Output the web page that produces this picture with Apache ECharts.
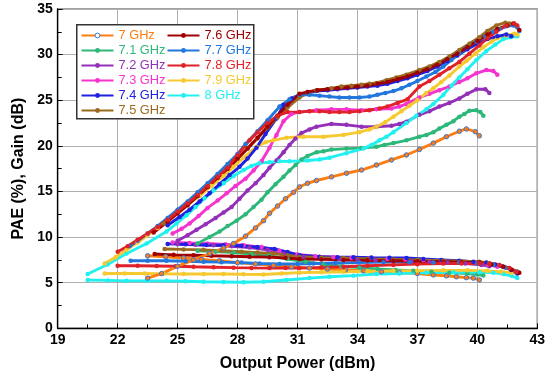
<!DOCTYPE html>
<html>
<head>
<meta charset="utf-8">
<script src="https://cdn.jsdelivr.net/npm/echarts@6/dist/echarts.min.js"></script>
<style>html,body{margin:0;padding:0;background:#fff}#c{width:558px;height:377px}</style>
</head>
<body>
<div id="c"></div>
<script>
const freqNames = ['7 GHz','7.1 GHz','7.2 GHz','7.3 GHz','7.4 GHz','7.5 GHz','7.6 GHz','7.7 GHz','7.8 GHz','7.9 GHz','8 GHz'];
const colors = ['#ff7d0f','#2db87a','#9430b8','#f533cf','#2020e0','#9a6b1f','#a00000','#2277dd','#e02228','#f7c930','#22f0f0'];
const xTicks = [19,22,25,28,31,34,37,40,43];
const yTicks = [0,5,10,15,20,25,30,35];

const pae_7 = [[23.5,5.5],[24.2,6.0],[25,6.8],[25.8,7.5],[26.6,8.2],[27.3,8.8],[27.8,9.3],[28.4,10.1],[28.9,11.0],[29.3,11.8],[29.6,12.6],[30,13.4],[30.4,14.2],[30.8,14.9],[31.1,15.5],[31.5,15.9],[31.95,16.2],[32.7,16.6],[33.45,17.0],[34.2,17.35],[34.95,17.9],[35.7,18.45],[36.45,19.0],[37.1,19.6],[37.8,20.3],[38.45,21.0],[39.1,21.6],[39.45,21.85],[39.9,21.55],[40.1,21.1]];
const pae_71 = [[26.0,9.3],[26.6,10.0],[27.1,10.6],[27.5,11.2],[27.95,11.8],[28.4,12.5],[28.8,13.3],[29.2,14.1],[29.5,14.9],[29.9,15.8],[30.3,16.6],[30.6,17.3],[30.9,17.9],[31.2,18.5],[31.5,18.9],[31.95,19.3],[32.3,19.4],[32.7,19.6],[33.45,19.7],[34.2,19.75],[34.95,19.9],[35.35,20.1],[35.8,20.3],[36.45,20.6],[37.1,21.0],[37.45,21.2],[37.8,21.5],[38.1,21.9],[38.45,22.3],[38.8,22.7],[39.1,23.2],[39.35,23.5],[39.6,23.85],[39.95,23.9],[40.15,23.7],[40.3,23.3]];
const pae_72 = [[25.0,9.6],[25.5,10.2],[25.95,10.8],[26.4,11.4],[26.9,12.1],[27.3,12.7],[27.7,13.3],[28.1,14.2],[28.5,15.1],[28.9,15.9],[29.3,16.8],[29.6,17.6],[29.95,18.4],[30.3,19.3],[30.6,20.1],[30.9,20.8],[31.2,21.4],[31.6,21.8],[31.95,22.1],[32.7,22.4],[33.45,22.3],[34.2,22.1],[34.95,22.1],[35.7,22.2],[36.1,22.4],[36.45,22.65],[37.1,23.4],[37.6,23.8],[38.1,24.3],[38.6,24.7],[39.1,25.2],[39.5,25.7],[39.95,26.2],[40.4,26.2],[40.6,25.8]];
const pae_73 = [[24.75,10.4],[25.2,10.9],[25.6,11.5],[26.05,12.3],[26.5,13.2],[27.0,14.0],[27.45,14.8],[27.9,15.6],[28.4,16.4],[28.8,17.3],[29.2,18.3],[29.6,19.8],[29.95,21.2],[30.3,22.7],[30.7,23.5],[31.1,23.7],[31.95,23.9],[32.7,24.0],[33.45,24.0],[34.2,23.9],[34.95,24.0],[35.7,24.1],[36.1,24.3],[36.45,24.6],[37.1,25.3],[37.6,25.7],[38.1,26.1],[38.6,26.5],[39.1,27.0],[39.5,27.4],[39.95,27.95],[40.45,28.3],[40.8,28.2],[41.0,27.8]];
const pae_74 = [[24.5,11.3],[25.1,12.2],[25.6,13.0],[26.1,13.9],[26.6,14.8],[27.1,15.8],[27.6,16.8],[28.1,17.7],[28.5,18.6],[28.95,19.8],[29.4,21.3],[29.95,23.0],[30.3,24.5],[30.7,25.2],[31.1,25.6],[31.5,25.8],[31.95,26.0],[32.5,26.1],[33,26.2],[33.5,26.3],[34,26.4],[34.5,26.5],[35,26.6],[35.5,26.8],[36,27.1],[36.5,27.4],[37,27.8],[37.5,28.2],[38,28.7],[38.5,29.3],[39,29.9],[39.5,30.6],[40,31.2],[40.5,31.7],[41,32.0],[41.45,32.2],[41.7,32.0]];
const pae_75 = [[24.3,11.5],[25,12.7],[25.5,13.6],[26,14.5],[26.5,15.5],[27,16.5],[27.5,17.5],[28,18.6],[28.5,19.7],[29,20.8],[29.5,22.0],[30,23.1],[30.5,24.2],[31.1,25.3],[31.5,25.8],[31.95,26.1],[32.7,26.3],[33.2,26.5],[33.7,26.6],[34.2,26.7],[34.6,26.8],[34.95,26.9],[35.45,27.2],[35.95,27.5],[36.45,27.8],[37.1,28.3],[37.6,28.7],[38.1,29.2],[38.6,29.8],[39.1,30.5],[39.6,31.2],[40.1,31.9],[40.5,32.6],[40.95,33.2],[41.4,33.5],[41.6,33.4]];
const pae_76 = [[23.8,10.5],[24.5,11.7],[25,12.6],[25.5,13.5],[26,14.5],[26.5,15.5],[27,16.5],[27.5,17.5],[28,18.6],[28.5,19.7],[29,20.9],[29.5,22.1],[30,23.3],[30.5,24.5],[31.1,25.7],[31.5,25.9],[32,26.1],[32.5,26.2],[33,26.3],[33.5,26.4],[34,26.5],[34.5,26.6],[35,26.8],[35.5,27.0],[36,27.3],[36.5,27.6],[37,28.0],[37.5,28.4],[38,28.9],[38.5,29.5],[39,30.1],[39.5,30.8],[40,31.5],[40.5,32.2],[41,32.8],[41.5,33.2],[41.8,33.4],[42.1,32.7]];
const pae_77 = [[22.6,9.0],[23,9.6],[23.5,10.4],[24,11.2],[24.5,12.1],[25,13.0],[25.5,13.9],[26,14.9],[26.5,15.9],[27,16.9],[27.5,18.0],[28,19.1],[28.4,20.2],[29,21.6],[29.5,22.8],[30.1,24.3],[30.6,25.1],[31.1,25.6],[31.6,25.6],[32.1,25.5],[32.6,25.4],[33.1,25.3],[33.6,25.3],[34.1,25.3],[34.6,25.4],[35.0,25.6],[35.4,25.8],[35.8,26.0],[36.2,26.3],[36.6,26.7],[37.0,27.1],[37.45,27.6],[37.9,28.1],[38.3,28.7],[38.7,29.4],[39.1,30.1],[39.5,30.8],[39.95,31.4],[40.4,32.0],[40.8,32.5],[41.1,32.8],[41.45,33.1],[41.8,33.2],[42.0,33.0],[42.1,32.6]];
const pae_78 = [[22,8.4],[22.5,9.0],[23,9.7],[23.5,10.4],[24,11.1],[24.5,11.9],[25,12.8],[25.5,13.7],[26,14.6],[26.5,15.6],[27,16.6],[27.5,17.6],[28,19.0],[28.6,20.6],[29,21.5],[29.5,22.5],[30,23.3],[30.5,23.7],[31.1,23.7],[31.6,23.8],[32.1,23.8],[32.6,23.7],[33.1,23.7],[33.6,23.7],[34.1,23.8],[34.6,23.9],[35.1,24.1],[35.5,24.3],[36,24.7],[36.5,25.1],[37.1,26.5],[37.6,27.1],[38.1,27.8],[38.6,28.5],[39.1,29.2],[39.6,30.1],[40.1,31.0],[40.5,31.8],[40.95,32.5],[41.45,33.2],[41.85,33.4],[42.0,33.2]];
const pae_79 = [[21.35,7.1],[21.9,7.8],[22.45,8.6],[23,9.4],[23.5,10.2],[24,11.0],[24.5,11.8],[25,12.6],[25.5,13.5],[26.1,14.5],[26.7,15.6],[27.3,16.7],[27.8,17.7],[28.3,18.7],[28.95,19.9],[29.4,20.4],[29.8,20.6],[30.45,20.9],[31.3,21.0],[32.3,21.0],[33.3,21.2],[34.1,21.5],[34.6,21.8],[34.95,22.1],[35.4,22.6],[35.8,23.2],[36.2,23.8],[36.6,24.4],[37.0,25.0],[37.45,25.8],[37.8,26.3],[38.2,27.0],[38.6,27.7],[39.1,28.7],[39.45,29.3],[39.9,30.1],[40.3,30.8],[40.7,31.4],[41.0,31.8],[41.45,32.1],[41.85,32.3],[42.0,32.2]];
const pae_8 = [[20.5,5.95],[21.5,7.0],[22.45,8.2],[23.45,9.3],[24.45,10.6],[24.95,11.5],[25.45,12.4],[25.9,13.3],[26.35,14.25],[26.8,15.1],[27.3,15.9],[27.8,16.7],[28.3,17.35],[28.7,17.8],[29.1,18.1],[29.6,18.2],[30.1,18.3],[30.6,18.3],[31.5,18.4],[32.1,18.5],[32.6,18.7],[33.45,19.2],[34.3,19.7],[34.7,20.1],[35.1,20.6],[35.45,21.0],[35.8,21.5],[36.45,22.5],[36.95,23.3],[37.45,24.0],[37.8,24.6],[38.3,25.6],[38.7,26.6],[39.1,27.5],[39.5,28.4],[39.95,29.4],[40.45,30.4],[40.9,31.1],[41.3,31.7],[41.65,31.9],[42.0,32.0]];

const gain_7 = [[23.5,7.95],[24.4,7.85],[25.3,7.7],[26.2,7.55],[27.1,7.4],[28,7.2],[28.9,7.05],[29.8,6.9],[30.7,6.75],[31.6,6.6],[32.5,6.5],[33.4,6.4],[34.3,6.3],[35.2,6.2],[36.1,6.1],[37.0,6.0],[37.8,5.85],[38.45,5.75],[38.95,5.65],[39.45,5.55],[39.8,5.5],[40.1,5.3]];
const gain_71 = [[26.0,8.5],[26.9,8.4],[27.8,8.3],[28.7,8.15],[29.6,7.95],[30.5,7.6],[31.4,7.3],[32.3,7.0],[33.2,6.8],[34.1,6.65],[35.0,6.5],[35.9,6.4],[36.8,6.3],[37.7,6.2],[38.6,6.1],[39.5,6.0],[40.0,5.9],[40.3,5.8]];
const gain_72 = [[25.0,9.2],[25.9,9.15],[26.8,9.1],[27.7,9.0],[28.6,8.85],[29.5,8.6],[30.4,8.2],[31.3,7.85],[32.2,7.7],[33.1,7.6],[34.0,7.5],[34.9,7.45],[35.8,7.4],[36.7,7.35],[37.6,7.3],[38.5,7.2],[39.4,7.1],[40.2,6.95],[40.6,6.8]];
const gain_73 = [[24.75,9.4],[25.6,9.35],[26.5,9.3],[27.4,9.2],[28.3,9.1],[29.2,8.9],[30.1,8.5],[31.0,8.1],[31.9,7.9],[32.8,7.8],[33.7,7.7],[34.6,7.65],[35.5,7.6],[36.4,7.55],[37.3,7.5],[38.2,7.4],[39.1,7.3],[40.0,7.15],[40.5,7.0],[41.0,6.75]];
const gain_74 = [[24.5,9.25],[25.4,9.2],[26.45,9.13],[27.3,9.1],[28.2,9.05],[29.0,8.9],[29.85,8.7],[30.5,8.35],[31.1,8.0],[32.1,7.85],[33.0,7.8],[33.8,7.8],[34.7,7.75],[35.6,7.72],[36.45,7.7],[37.3,7.6],[38.2,7.5],[39.1,7.4],[39.8,7.3],[40.45,7.2],[40.9,7.0],[41.3,6.75],[41.7,6.4],[42.0,6.0]];
const gain_75 = [[24.35,8.7],[25.3,8.65],[26.3,8.6],[27.2,8.5],[28.2,8.4],[29.0,8.3],[29.8,8.2],[30.5,8.0],[31.1,7.85],[32.2,7.75],[33.3,7.7],[34.5,7.6],[35.8,7.55],[37.0,7.5],[38.3,7.4],[39.2,7.35],[40.1,7.3],[40.6,7.15],[41.1,6.95],[41.6,6.6],[42.0,6.2]];
const gain_76 = [[23.85,8.15],[24.8,8.05],[25.8,8.0],[26.7,7.95],[27.7,7.9],[28.6,7.85],[29.6,7.8],[30.4,7.7],[31.1,7.6],[32.2,7.55],[33.3,7.5],[34.5,7.45],[35.8,7.4],[37.0,7.35],[38.3,7.3],[39.2,7.25],[40.1,7.2],[40.7,7.0],[41.3,6.75],[41.7,6.45],[42.1,6.1]];
const gain_77 = [[22.65,7.4],[23.5,7.4],[24.45,7.4],[25.4,7.35],[26.3,7.3],[27.2,7.25],[28.2,7.2],[29.1,7.1],[30.1,7.05],[31.0,7.05],[31.8,7.1],[32.9,7.15],[34.1,7.2],[35.3,7.25],[36.6,7.25],[37.8,7.22],[39.1,7.2],[40.0,7.1],[40.8,6.95],[41.4,6.65],[42.0,6.2]];
const gain_78 = [[22.0,6.85],[23.0,6.85],[23.95,6.83],[24.9,6.8],[25.8,6.75],[26.8,6.7],[27.8,6.65],[28.7,6.62],[29.6,6.6],[30.4,6.6],[31.1,6.6],[32.2,6.68],[33.3,6.75],[34.5,6.85],[35.8,6.95],[37.0,7.03],[38.3,7.1],[39.2,7.1],[40.1,7.1],[40.6,7.05],[41.1,6.95],[41.6,6.6],[41.95,6.2]];
const gain_79 = [[21.35,6.0],[22.35,6.0],[23.35,6.0],[24.3,5.97],[25.3,5.95],[26.3,5.95],[27.3,5.95],[28.3,5.92],[29.3,5.9],[30.2,6.0],[31.1,6.1],[32.2,6.15],[33.3,6.2],[34.5,6.25],[35.8,6.3],[37.0,6.32],[38.3,6.35],[39.5,6.35],[40.5,6.3],[41.2,6.2],[41.7,6.1],[42.0,6.0]];
const gain_8 = [[20.5,5.3],[21.5,5.25],[22.45,5.2],[23.45,5.2],[24.45,5.2],[25.4,5.15],[26.3,5.1],[27.3,5.08],[28.3,5.05],[29.3,5.1],[30.45,5.3],[31.6,5.5],[32.6,5.65],[33.8,5.77],[34.95,5.95],[36.1,6.0],[37.45,6.1],[38.8,6.15],[40.1,6.15],[40.8,6.1],[41.3,5.95],[41.7,5.75],[42.0,5.5]];

const paeSets = [pae_7,pae_71,pae_72,pae_73,pae_74,pae_75,pae_76,pae_77,pae_78,pae_79,pae_8];
const gainSets = [gain_7,gain_71,gain_72,gain_73,gain_74,gain_75,gain_76,gain_77,gain_78,gain_79,gain_8];

const FONT = '"Liberation Sans", Arial, sans-serif';
const series = [];
function mk(name, color, data, idx) {
  const st = {color: color};
  if (idx === 0) { st.borderColor = '#3a78d8'; st.borderWidth = 1; }
  return {
    name: name, type: 'line', data: data,
    symbol: 'circle', symbolSize: 4.5, showSymbol: true,
    lineStyle: {color: color, width: 2.9},
    itemStyle: st,
    emphasis: {disabled: true},
    animation: false, z: 2
  };
}
const drawOrder = [0,1,2,3,10,9,4,5,7,6,8];
drawOrder.forEach(i => { series.push(mk(freqNames[i], colors[i], gainSets[i], i)); });
drawOrder.forEach(i => { series.push(mk(freqNames[i], colors[i], paeSets[i], i)); });

function legendItems(from, to) {
  const out = [];
  for (let i = from; i < to; i++) {
    const it = {name: freqNames[i], textStyle: {color: colors[i]}};
    if (i === 0) it.itemStyle = {color: '#ffffff', borderColor: '#3a78d8', borderWidth: 1};
    out.push(it);
  }
  return out;
}
const legendCommon = {
  orient: 'vertical', itemWidth: 32, itemHeight: 6, itemGap: 2, z: 6,
  textStyle: {fontFamily: FONT, fontSize: 12.8, lineHeight: 12.3},
  selectedMode: false, padding: 0
};

const chart = echarts.init(document.getElementById('c'), null, {renderer: 'canvas'});
chart.setOption({
  backgroundColor: '#ffffff',
  animation: false,
  grid: {left: 57.7, right: 20.7, top: 9, bottom: 48.7, show: true, borderColor: '#444', borderWidth: 1.2, backgroundColor: 'transparent'},
  graphic: [{type: 'rect', left: 76, top: 24, shape: {width: 177, height: 94}, style: {fill: '#fff', stroke: '#333', lineWidth: 1.5}, z: 5}],
  legend: [
    Object.assign({}, legendCommon, {left: 80.5, top: 29, data: legendItems(0, 6)}),
    Object.assign({}, legendCommon, {left: 166.5, top: 29, data: legendItems(6, 11)})
  ],
  xAxis: {
    type: 'value', min: xTicks[0], max: xTicks[xTicks.length - 1], interval: 3,
    name: 'Output Power (dBm)', nameLocation: 'middle', nameGap: 27,
    nameTextStyle: {fontFamily: FONT, fontSize: 16, fontWeight: 'bold', color: '#000'},
    axisLine: {lineStyle: {color: '#000', width: 1.3}},
    axisTick: {inside: true, length: 5, lineStyle: {color: '#000'}},
    minorTick: {show: true, splitNumber: 2, length: 4, lineStyle: {color: '#000'}},
    axisLabel: {fontFamily: FONT, fontSize: 14, fontWeight: 'bold', color: '#000', margin: 5},
    splitLine: {show: true, lineStyle: {color: '#b0b0b0', width: 1}}
  },
  yAxis: {
    type: 'value', min: yTicks[0], max: yTicks[yTicks.length - 1], interval: 5,
    name: 'PAE (%), Gain (dB)', nameLocation: 'middle', nameGap: 27, nameRotate: 90,
    nameTextStyle: {fontFamily: FONT, fontSize: 16, fontWeight: 'bold', color: '#000'},
    axisLine: {show: true, lineStyle: {color: '#000', width: 1.3}},
    axisTick: {show: true, inside: true, length: 5, lineStyle: {color: '#000'}},
    minorTick: {show: true, splitNumber: 2, length: 4, lineStyle: {color: '#000'}},
    axisLabel: {fontFamily: FONT, fontSize: 14, fontWeight: 'bold', color: '#000', margin: 5},
    splitLine: {show: true, lineStyle: {color: '#b0b0b0', width: 1}}
  },
  series: series
});
</script>
</body>
</html>
